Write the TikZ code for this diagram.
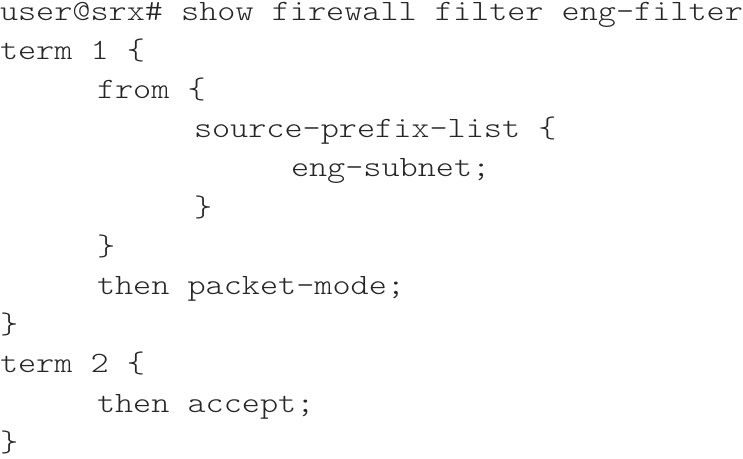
\documentclass[tikz,border=0pt]{standalone}
\usepackage{fontspec}
\newfontfamily\codefont[FakeStretch=1.17]{lmmonolt10-regular.otf}
\begin{document}
\begin{tikzpicture}[x=1pt,y=1pt,
  codeline/.style={anchor=base west,inner sep=0pt,outer sep=0pt,text=black!85,
    font=\codefont\fontsize{29.5}{36}\selectfont}]
\useasboundingbox (0,0) rectangle (743,-458);
\def\ls{39.2}
\def\bl{20}
\node[codeline] (l1)  at (0,-\bl) {user@srx\# show firewall filter eng-filter};
\node[codeline] (l2)  at (0,{-\bl-1*\ls}) {term 1 \{};
\node[codeline] (l3)  at (97,{-\bl-2*\ls}) {from \{};
\node[codeline] (l4)  at (194,{-\bl-3*\ls}) {source-prefix-list \{};
\node[codeline] (l5)  at (291,{-\bl-4*\ls}) {eng-subnet;};
\node[codeline] (l6)  at (194,{-\bl-5*\ls}) {\}};
\node[codeline] (l7)  at (97,{-\bl-6*\ls}) {\}};
\node[codeline] (l8)  at (97,{-\bl-7*\ls}) {then packet-mode;};
\node[codeline] (l9)  at (0,{-\bl-8*\ls}) {\}};
\node[codeline] (l10) at (0,{-\bl-9*\ls}) {term 2 \{};
\node[codeline] (l11) at (97,{-\bl-10*\ls}) {then accept;};
\node[codeline] (l12) at (0,{-\bl-11*\ls}) {\}};
\end{tikzpicture}
\end{document}
